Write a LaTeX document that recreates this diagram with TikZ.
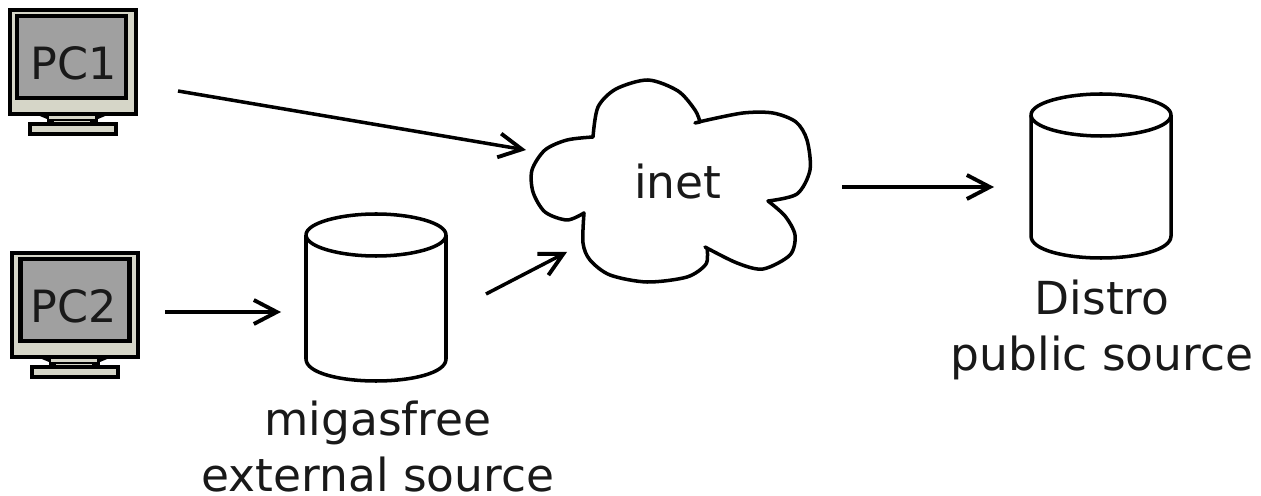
\documentclass[tikz,border=0pt]{standalone}
\usepackage{fontspec}
\setmainfont{DejaVu Sans}
\usetikzlibrary{arrows.meta,positioning}
\definecolor{pcbeige}{RGB}{214,214,200}
\definecolor{pcgray}{RGB}{160,160,160}
\tikzset{
  link/.style={line width=2pt,-{Straight Barb[length=4.6mm,width=4.8mm,line width=2.2pt]}},
  outline/.style={line width=2pt,line join=round},
  frame/.style={draw=black,line width=1.9pt,fill=pcbeige},
  caption/.style={font=\fontsize{25.9}{31.7}\selectfont,text=black!90,align=center,inner sep=0pt},
  pclabel/.style={font=\fontsize{25.3}{30}\selectfont,text=black!90,inner sep=0pt}
}
\begin{document}
\begin{tikzpicture}[x=0.02cm,y=-0.02cm]
\useasboundingbox (0,0) rectangle (1261,496);

\coordinate (a1) at (178,91); %pc1 out
\coordinate (a2) at (526,150); %inet in
\coordinate (b1) at (165,312); %pc2 out
\coordinate (b2) at (281,312); %migasfree in
\coordinate (c1) at (486,294); %migasfree out
\coordinate (c2) at (567,252); %inet in
\coordinate (d1) at (842,187); %inet out
\coordinate (d2) at (994,187); %distro in

% monitors
\foreach \pcname/\pctext/\dx/\dy/\sx/\lx in {pc1/PC1/0/0/0/74,pc2/PC2/2/243/1.5/72}{
  \begin{scope}[shift={(\dx,\dy)}]
  \fill (35,114) -- (47,119) -- (98,119) -- (110,114) -- cycle;
  \fill (47,116) rectangle (98,125);
  \fill [pcbeige] (49,116) rectangle (95,119);
  \fill [pcbeige] (54,121) rectangle (90,124);
  \draw [frame] (30,124) rectangle (116,134);
  \draw [frame,line width=2pt] (10,10) rectangle (136,114);
  \draw [line width=2.6pt,fill=pcgray] (17+\sx,16) rectangle (126+\sx,98);
  \node [pclabel] (\pcname) at (\lx,63) {\pctext};
  \end{scope}
}

% cylinders
\foreach \dbname/\dx/\ytop/\ybot in {migasfree/0/235/381,distro/725/115/258}{
  \begin{scope}[shift={(\dx,0)}]
  \draw [outline] (306,\ytop) -- (306,\ybot-22)
    .. controls (306,\ybot-8) and (340,\ybot) .. (376,\ybot)
    .. controls (412,\ybot) and (446,\ybot-8) .. (446,\ybot-22) -- (446,\ytop);
  \draw [outline] (306,\ytop)
    .. controls (306,\ytop-12) and (340,\ytop-21) .. (376,\ytop-21)
    .. controls (412,\ytop-21) and (446,\ytop-12) .. (446,\ytop)
    .. controls (446,\ytop+12) and (412,\ytop+21) .. (376,\ytop+21)
    .. controls (340,\ytop+21) and (306,\ytop+12) .. (306,\ytop);
  \end{scope}
}

% cloud
\draw [outline] plot [smooth] coordinates {(593,137) (598,107) (616,89) (648,80) (678,91) (695,110) (700,122)}
  -- (695,123) -- plot [smooth] coordinates {(703,121) (743,113) (773,113) (796,122) (807,140) (810,170) (797,194) (768,201)}
  -- plot [smooth] coordinates {(768,201) (785,216) (795,235) (790,255) (763,269) (737,263) (705,247)}
  -- plot [smooth] coordinates {(707,248) (706,264) (687,277) (647,282) (610,275) (590,260) (583,243) (584,213)}
  -- plot [smooth] coordinates {(584,213) (567,220) (545,212) (533,192) (532,170) (545,150) (567,140) (593,137)} -- cycle;
\node [caption] (inet) at (678,182) {inet};

\node [caption,anchor=north] (migasfreetext) at (378,401) {migasfree\\external source};
\node [caption,anchor=north] (distrotext) at (1102,280) {Distro\\public source};

\draw [link] (a1) -- (a2);
\draw [link] (b1) -- (b2);
\draw [link] (c1) -- (c2);
\draw [link] (d1) -- (d2);
\end{tikzpicture}
\end{document}
